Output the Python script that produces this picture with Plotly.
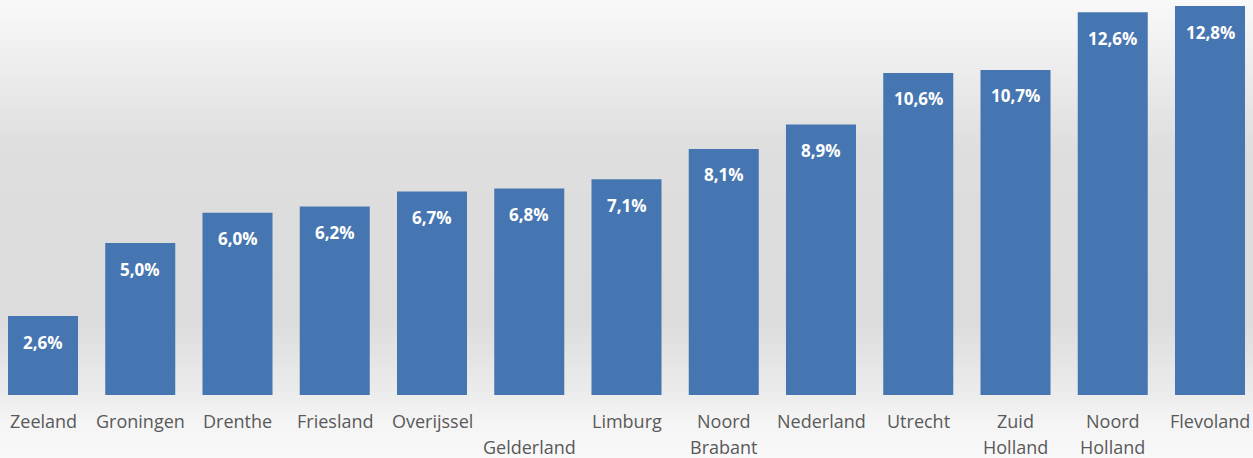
import plotly.graph_objects as go

categories = ["Zeeland", "Groningen", "Drenthe", "Friesland", "Overijssel", "Gelderland",
              "Limburg", "Noord Brabant", "Nederland", "Utrecht", "Zuid Holland",
              "Noord Holland", "Flevoland"]
values = [2.6, 5.0, 6.0, 6.2, 6.7, 6.8, 7.1, 8.1, 8.9, 10.6, 10.7, 12.6, 12.8]
tick_labels = [["Zeeland"], ["Groningen"], ["Drenthe"], ["Friesland"], ["Overijssel"],
               ["", "Gelderland"], ["Limburg"], ["Noord", "Brabant"], ["Nederland"],
               ["Utrecht"], ["Zuid", "Holland"], ["Noord", "Holland"], ["Flevoland"]]
value_text = [f"{v:.1f}".replace(".", ",") + "%" for v in values]

W, H = 1253, 458
MB = 63
PH = H - MB

FONT = "Open Sans"

fig = go.Figure()
fig.add_trace(go.Bar(
    x=categories, y=values,
    marker=dict(color="#4676b1", line=dict(width=0)),
    width=0.72,
    hoverinfo="x+y",
))

annotations = []
for c, v, t in zip(categories, values, value_text):
    annotations.append(dict(
        x=c, y=v, xref="x", yref="y", text=f"<b>{t}</b>", showarrow=False,
        yanchor="middle", yshift=-26,
        font=dict(family=FONT, size=17, color="white"),
    ))
for c, lines in zip(categories, tick_labels):
    for i, line in enumerate(lines):
        if not line:
            continue
        annotations.append(dict(
            x=c, y=0, xref="x", yref="paper", text=line, showarrow=False,
            yanchor="middle", yshift=-(26 + 26 * i),
            font=dict(family=FONT, size=18, color="#595959"),
        ))

stops = [(0, 249), (150, 222), (320, 220), (395, 236), (420, 244), (458, 249)]
def gray_at(py):
    for (y0, g0), (y1, g1) in zip(stops[:-1], stops[1:]):
        if y0 <= py <= y1:
            return g0 + (g1 - g0) * (py - y0) / (y1 - y0)
    return stops[-1][1]

shapes = []
step = 4
for py in range(0, H, step):
    g = round(gray_at(py + step / 2))
    shapes.append(dict(
        type="rect", xref="paper", yref="paper", layer="below",
        x0=-0.01, x1=1.01, y0=(PH - py - step - 0.5) / PH, y1=(PH - py + 0.5) / PH,
        fillcolor=f"rgb({g},{g},{g})", line=dict(width=0),
    ))

spacing = 97.25
left = -43 / spacing
right = left + W / spacing

fig.update_layout(
    width=W, height=H,
    margin=dict(l=0, r=0, t=0, b=MB),
    paper_bgcolor="#f4f4f4",
    plot_bgcolor="rgba(0,0,0,0)",
    showlegend=False,
    xaxis=dict(range=[left, right], showticklabels=False, showgrid=False,
               zeroline=False, showline=False, fixedrange=True),
    yaxis=dict(range=[0, 13.0], visible=False, showgrid=False, zeroline=False),
    annotations=annotations,
    shapes=shapes,
    font=dict(family=FONT),
)

fig.write_html("out.html", config={"displayModeBar": False},
               post_script="document.body.style.margin='0';document.body.style.overflow='hidden';")
